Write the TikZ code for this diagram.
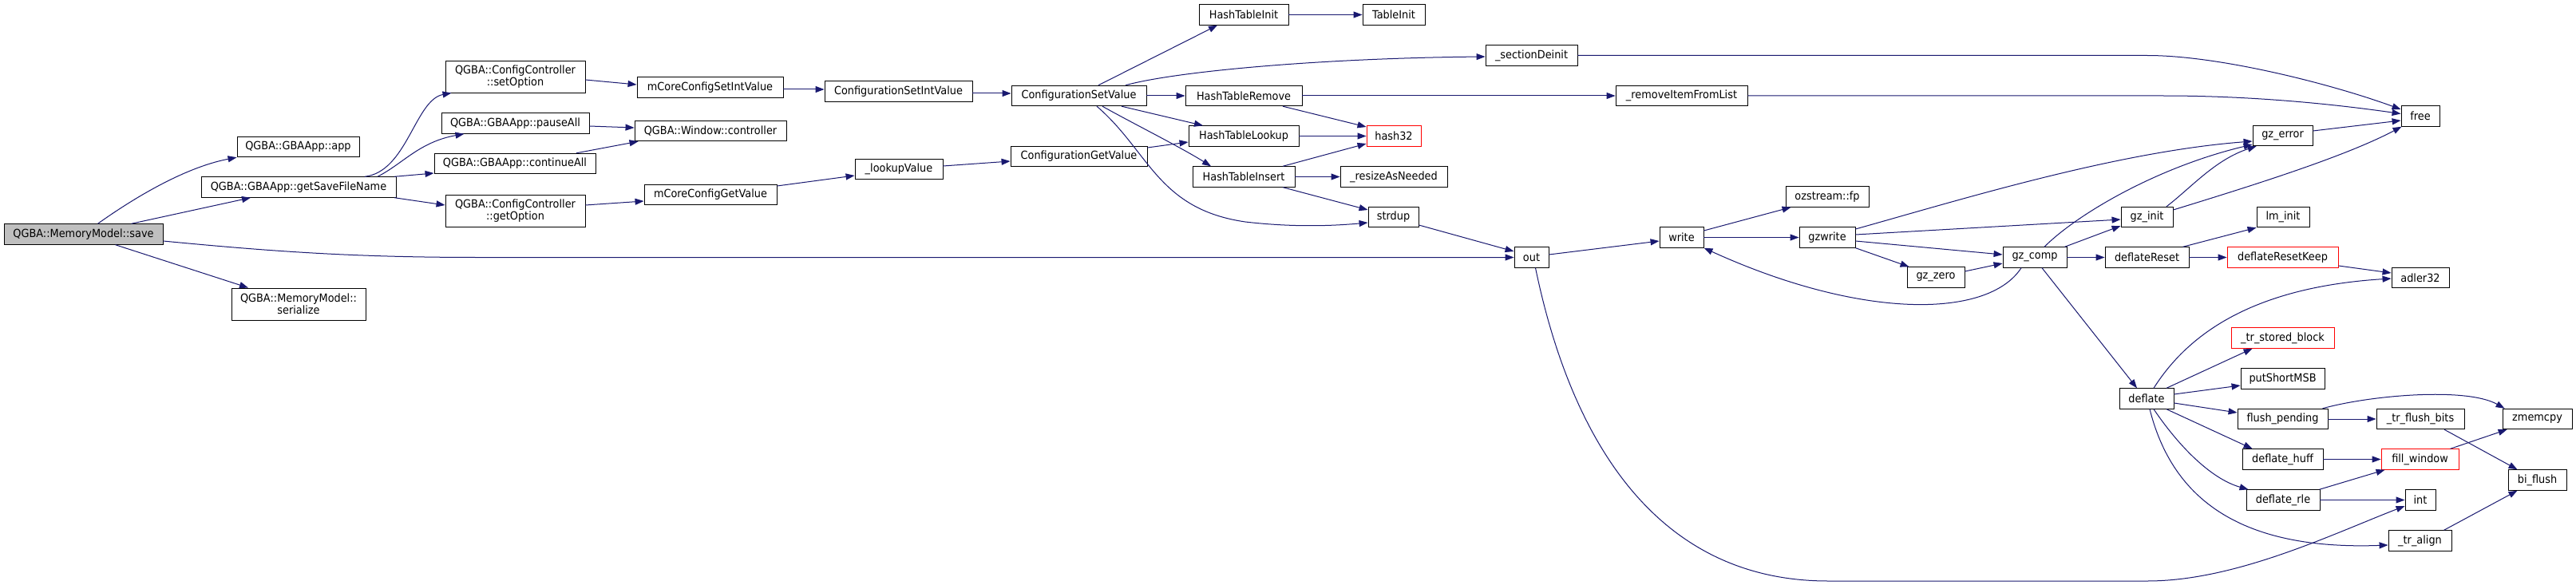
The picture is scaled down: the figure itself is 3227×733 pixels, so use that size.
\documentclass[tikz,border=0pt]{standalone}
\usepackage{fontspec}
\setmainfont{DejaVu Sans}[FakeStretch=0.92]
\usetikzlibrary{arrows.meta,calc}
\definecolor{edgec}{HTML}{191970}
\begin{document}
\begin{tikzpicture}[x=1pt,y=-1pt,
  box/.style={draw=black, fill=white, line width=0.9pt, inner sep=0pt, align=center,
    font=\fontsize{14}{15}\selectfont, minimum height=25.5pt},
  tall/.style={minimum height=40pt},
  redb/.style={draw=red},
  cur/.style={fill=black!25},
  e/.style={draw=edgec, line width=1pt, -{Triangle[length=11pt,width=8pt]}}]
\useasboundingbox (0,0) rectangle (3227,733);
\fill[white] (0,0) rectangle (3227,733);
% nodes
\node[box,cur,minimum width=199pt] (save) at (104.5,293.5) {QGBA::MemoryModel::save};
\node[box,minimum width=153pt] (app) at (373.5,184) {QGBA::GBAApp::app};
\node[box,minimum width=244pt] (gsfn) at (374,234.5) {QGBA::GBAApp::getSaveFileName};
\node[box,tall,minimum width=168pt] (ser) at (374,381) {QGBA::MemoryModel::\\serialize};
\node[box,tall,minimum width=175pt] (setopt) at (645.5,96) {QGBA::ConfigController\\::setOption};
\node[box,minimum width=185pt] (pause) at (645.5,154.5) {QGBA::GBAApp::pauseAll};
\node[box,minimum width=202pt] (cont) at (645,205) {QGBA::GBAApp::continueAll};
\node[box,tall,minimum width=175pt] (getopt) at (645.5,264) {QGBA::ConfigController\\::getOption};
\node[box,minimum width=183pt] (mcsiv) at (889.5,109.5) {mCoreConfigSetIntValue};
\node[box,minimum width=190pt] (wctrl) at (890,164) {QGBA::Window::controller};
\node[box,minimum width=166pt] (mcgv) at (890,244) {mCoreConfigGetValue};
\node[box,minimum width=185pt] (csiv) at (1125.5,114.5) {ConfigurationSetIntValue};
\node[box,minimum width=110pt] (lookup) at (1126,212) {\_lookupValue};
\node[box,minimum width=169pt] (csv) at (1351.5,120) {ConfigurationSetValue};
\node[box,minimum width=171pt] (cgv) at (1351.5,196) {ConfigurationGetValue};
\node[box,minimum width=112pt] (htinit) at (1558,18.5) {HashTableInit};
\node[box,minimum width=146pt] (htrem) at (1558,120) {HashTableRemove};
\node[box,minimum width=138pt] (htlook) at (1558,170.5) {HashTableLookup};
\node[box,minimum width=128pt] (htins) at (1558,221.5) {HashTableInsert};
\node[box,minimum width=78pt] (tinit) at (1746,18.5) {TableInit};
\node[box,redb,minimum width=68pt] (hash) at (1746,170.5) {hash32};
\node[box,minimum width=134pt] (resize) at (1746,221.5) {\_resizeAsNeeded};
\node[box,minimum width=63pt] (strdup) at (1745.5,272) {strdup};
\node[box,minimum width=115pt] (secd) at (1918.5,69.5) {\_sectionDeinit};
\node[box,minimum width=43pt] (outn) at (1918.5,322.5) {out};
\node[box,minimum width=165pt] (remi) at (2106.5,120) {\_removeItemFromList};
\node[box,minimum width=55pt] (write) at (2106.5,297.5) {write};
\node[box,minimum width=104pt] (ozfp) at (2289,246.5) {ozstream::fp};
\node[box,minimum width=70pt] (gzwrite) at (2289,297.5) {gzwrite};
\node[box,minimum width=72pt] (gzzero) at (2425,347.5) {gz\_zero};
\node[box,minimum width=80pt] (gzcomp) at (2549,322.5) {gz\_comp};
\node[box,minimum width=65pt] (gzinit) at (2689.5,272) {gz\_init};
\node[box,minimum width=105pt] (dreset) at (2689.5,322.5) {deflateReset};
\node[box,minimum width=68pt] (deflate) at (2689,499.5) {deflate};
\node[box,minimum width=75pt] (gzerror) at (2859.5,170) {gz\_error};
\node[box,minimum width=66pt] (lminit) at (2860,272) {lm\_init};
\node[box,redb,minimum width=139pt] (drk) at (2859.5,322.5) {deflateResetKeep};
\node[box,redb,minimum width=129pt] (trsb) at (2859.5,423.5) {\_tr\_stored\_block};
\node[box,minimum width=105pt] (psm) at (2859.5,474.5) {putShortMSB};
\node[box,minimum width=113pt] (flushp) at (2859.5,525) {flush\_pending};
\node[box,minimum width=101pt] (dhuff) at (2859.5,575.5) {deflate\_huff};
\node[box,minimum width=92pt] (drle) at (2860,626.5) {deflate\_rle};
\node[box,minimum width=48pt] (free) at (3032,145.5) {free};
\node[box,minimum width=72pt] (adler) at (3032,348) {adler32};
\node[box,minimum width=110pt] (trfb) at (3032,525) {\_tr\_flush\_bits};
\node[box,redb,minimum width=97pt] (fillw) at (3031.5,575.5) {fill\_window};
\node[box,minimum width=38pt] (intn) at (3032,626.5) {int};
\node[box,minimum width=79pt] (tralign) at (3031.5,677.5) {\_tr\_align};
\node[box,minimum width=87pt] (zmem) at (3178.5,525) {zmemcpy};
\node[box,minimum width=73pt] (biflush) at (3178.5,601.5) {bi\_flush};
% edges
\draw[e] ([xshift=18pt]save.north) .. controls (165,250) and (230,210) .. (app.south west);
\draw[e] ([xshift=60pt]save.north) -- ([xshift=-60pt]gsfn.south);
\draw[e] ([yshift=-8.5pt]save.east) .. controls (350,316) and (450,322.5) .. (600,322.5) -- (outn.west);
\draw[e] ([xshift=40pt]save.south) -- ([xshift=-63pt]ser.north);
\draw[e] ([xshift=83pt]gsfn.north) .. controls (510,215) and (520,125) .. ([xshift=-80pt]setopt.south);
\draw[e] ([xshift=99pt]gsfn.north) .. controls (505,205) and (525,178) .. ([xshift=-64pt]pause.south);
\draw[e] ([xshift=120pt]gsfn.north) -- ([yshift=-12pt]cont.west);
\draw[e] ([xshift=120pt]gsfn.south) -- ([yshift=7pt]getopt.west);
\draw[e] ([yshift=-4pt]setopt.east) -- ([yshift=3.5pt]mcsiv.west);
\draw[e] ([yshift=-3.5pt]pause.east) -- ([yshift=4pt]wctrl.west);
\draw[e] ([xshift=77pt]cont.north) -- ([xshift=5pt]wctrl.south west);
\draw[e] ([yshift=7pt]getopt.east) -- ([yshift=-8pt]mcgv.west);
\draw[e] ([yshift=-2.5pt]mcsiv.east) -- ([yshift=2.5pt]csiv.west);
\draw[e] ([yshift=11pt]mcgv.east) -- ([yshift=-8pt]lookup.west);
\draw[e] ([yshift=4pt]lookup.east) -- ([yshift=-6pt]cgv.west);
\draw[e] ([yshift=-2.5pt]csiv.east) -- ([yshift=3pt]csv.west);
\draw[e] ([xshift=24.5pt]csv.north) -- ([xshift=-33pt]htinit.south);
\draw[e] ([xshift=58.5pt]csv.north) .. controls (1470,90) and (1650,73) .. ([yshift=-1.5pt]secd.west);
\draw[e] (csv.east) -- (htrem.west);
\draw[e] ([xshift=53.5pt]csv.south) -- ([xshift=-51pt]htlook.north);
\draw[e] ([xshift=29.5pt]csv.south) .. controls (1420,155) and (1480,185) .. ([xshift=-41pt]htins.north);
\draw[e] ([xshift=22.5pt]csv.south) .. controls (1440,190) and (1450,262) .. (1560,278) .. controls (1620,285) and (1670,283) .. ([yshift=-7pt]strdup.west);
\draw[e] ([yshift=11pt]cgv.east) -- ([yshift=-7.5pt]htlook.west);
\draw[e] (htinit.east) -- (tinit.west);
\draw[e] (htrem.east) -- (remi.west);
\draw[e] ([xshift=49pt]htrem.south) -- ([yshift=11.5pt]hash.west);
\draw[e] (htlook.east) -- (hash.west);
\draw[e] ([xshift=49pt]htins.north) -- ([yshift=-9.5pt]hash.west);
\draw[e] (htins.east) -- (resize.west);
\draw[e] ([xshift=49pt]htins.south) -- ([yshift=9pt]strdup.west);
\draw[e] (secd.east) -- (2690,69.5) .. controls (2780,69.5) and (2920,105) .. ([yshift=8.5pt]free.west);
\draw[e] (remi.east) -- (2710,120) .. controls (2820,120) and (2920,130) .. ([yshift=3pt]free.west);
\draw[e] ([yshift=-10pt]strdup.east) -- ([yshift=7.5pt]outn.west);
\draw[e] ([yshift=3.5pt]outn.east) -- ([yshift=-4.5pt]write.west);
\draw[e] ([xshift=5pt]outn.south) .. controls (1970,560) and (2080,728) .. (2290,728) -- (2690,728) .. controls (2800,728) and (2920,670) .. ([yshift=-7.5pt]intn.west);
\draw[e] ([yshift=8.5pt]write.east) -- ([xshift=7pt]ozfp.south west);
\draw[e] (write.east) -- (gzwrite.west);
\draw[e] ([yshift=10.5pt]gzwrite.east) .. controls (2450,252) and (2650,190) .. ([yshift=-7pt]gzerror.west);
\draw[e] ([yshift=3.5pt]gzwrite.east) -- ([yshift=-3pt]gzinit.west);
\draw[e] ([yshift=-4.5pt]gzwrite.east) -- ([yshift=3.5pt]gzcomp.west);
\draw[e] (gzwrite.south east) -- ([xshift=3pt]gzzero.north west);
\draw[e] ([yshift=7.5pt]gzzero.east) -- ([yshift=-7.5pt]gzcomp.west);
\draw[e] ([xshift=-17pt]gzcomp.south) .. controls (2490,400) and (2330,400) .. (write.south east);
\draw[e] ([xshift=12pt]gzcomp.north) .. controls (2600,270) and (2700,210) .. ([yshift=-11pt]gzerror.west);
\draw[e] ([xshift=-3pt]gzcomp.north east) -- ([yshift=-11pt]gzinit.west);
\draw[e] (gzcomp.east) -- (dreset.west);
\draw[e] ([xshift=9pt]gzcomp.south) -- ([xshift=-12pt]deflate.north);
\draw[e] ([xshift=24.5pt]gzinit.north) .. controls (2745,235) and (2775,200) .. ([xshift=5pt]gzerror.south west);
\draw[e] ([yshift=9pt]gzinit.east) .. controls (2830,230) and (2940,195) .. ([xshift=1pt]free.south west);
\draw[e] ([yshift=6pt]gzerror.east) -- ([yshift=-5.5pt]free.west);
\draw[e] ([xshift=45pt]dreset.north) -- (lminit.south west);
\draw[e] (dreset.east) -- (drk.west);
\draw[e] ([yshift=-10.5pt]drk.east) -- ([yshift=6pt]adler.west);
\draw[e] ([xshift=9pt]deflate.north) .. controls (2740,420) and (2820,360) .. ([yshift=-1pt]adler.west);
\draw[e] ([xshift=25pt]deflate.north) -- ([xshift=27pt]trsb.south west);
\draw[e] ([yshift=5.5pt]deflate.east) -- ([yshift=-8.5pt]psm.west);
\draw[e] ([yshift=-5.5pt]deflate.east) -- ([yshift=8pt]flushp.west);
\draw[e] ([xshift=25pt]deflate.south) -- ([xshift=13pt]dhuff.north west);
\draw[e] ([xshift=9pt]deflate.south) .. controls (2730,560) and (2770,600) .. ([xshift=3pt]drle.north west);
\draw[e] ([xshift=4pt]deflate.south) .. controls (2720,620) and (2800,690) .. ([yshift=-5.5pt]tralign.west);
\draw[e] ([xshift=50pt]flushp.north) .. controls (2970,495) and (3090,485) .. ([xshift=3pt]zmem.north west);
\draw[e] (flushp.east) -- (trfb.west);
\draw[e] ([xshift=30pt]trfb.south) -- ([xshift=12pt]biflush.north west);
\draw[e] (dhuff.east) -- (fillw.west);
\draw[e] ([xshift=38pt]fillw.north) -- ([xshift=6pt]zmem.south west);
\draw[e] ([xshift=-1pt]drle.north east) -- ([xshift=5pt]fillw.south west);
\draw[e] (drle.east) -- (intn.west);
\draw[e] ([xshift=30pt]tralign.north) -- ([xshift=12pt]biflush.south west);
\end{tikzpicture}
\end{document}
